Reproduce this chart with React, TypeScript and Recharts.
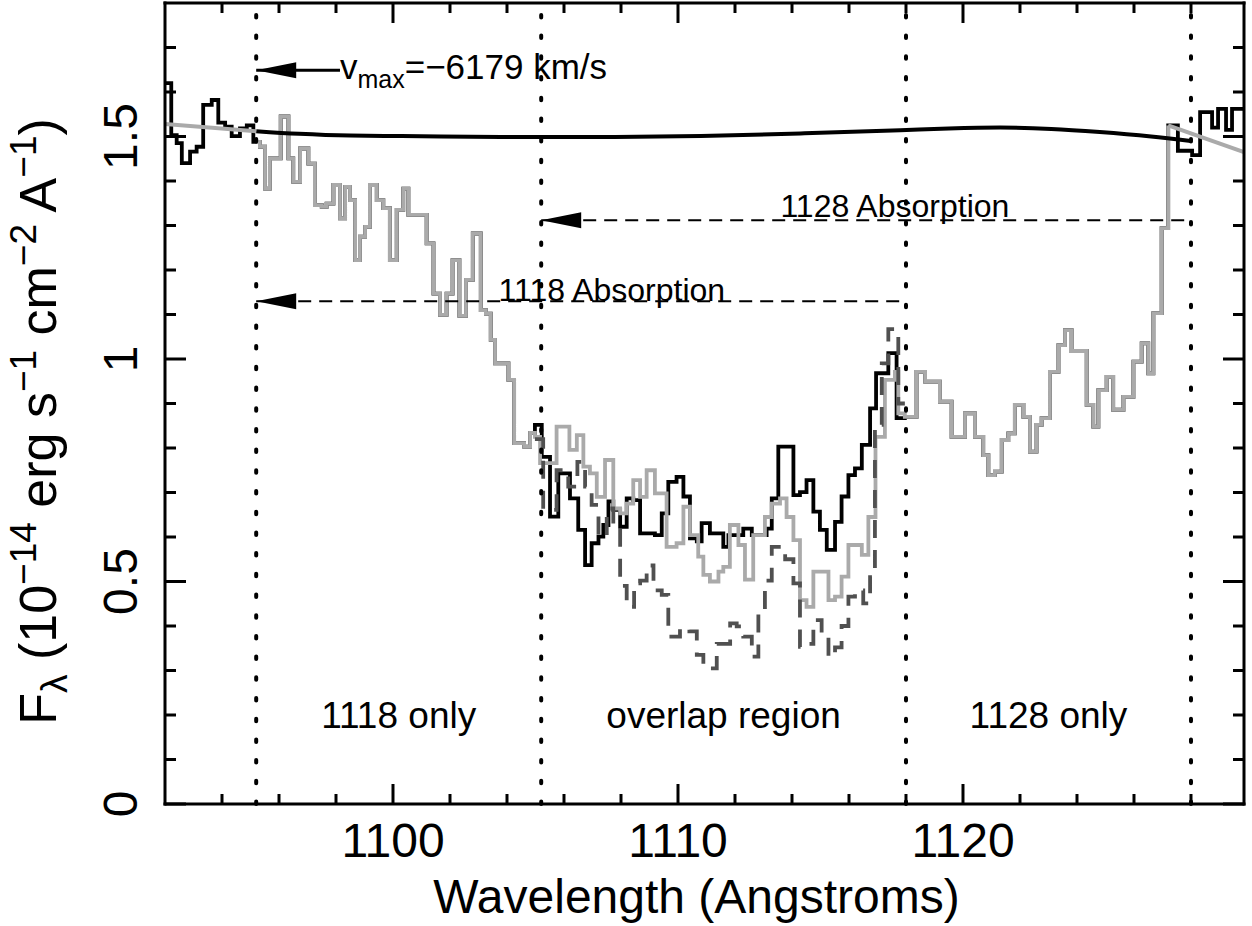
import React from 'react';
import { LineChart, Line, XAxis, YAxis, ReferenceLine, ReferenceDot } from 'recharts';

const FONT = '"Liberation Sans", Arial, Helvetica, sans-serif';

// ---------- axes ----------
const X_MIN = 1092;
const X_MAX = 1129.86;
const Y_MIN = 0;
const Y_MAX = 1.8;
const X_TICKS = [1094, 1096, 1098, 1100, 1102, 1104, 1106, 1108, 1110, 1112, 1114, 1116, 1118, 1120, 1122, 1124, 1126, 1128];
const X_MAJOR = [1100, 1110, 1120];
const Y_TICKS = [0, 0.1, 0.2, 0.3, 0.4, 0.5, 0.6, 0.7, 0.8, 0.9, 1, 1.1, 1.2, 1.3, 1.4, 1.5, 1.6, 1.7];
const Y_MAJOR = [0, 0.5, 1, 1.5];

// ---------- observed spectrum (black), pieces ----------
const leftObsWave = [1092.0, 1092.22, 1092.41, 1092.59, 1092.88, 1093.11, 1093.34, 1093.64, 1093.87, 1094.11, 1094.34, 1094.63, 1094.87, 1095.1];
const leftObsFlux = [1.62, 1.503, 1.485, 1.44, 1.466, 1.477, 1.571, 1.582, 1.531, 1.522, 1.501, 1.518, 1.525, 1.488];

// shared by observed and model (blue side of the trough)
const commonWave = [1095.22, 1095.33, 1095.51, 1095.68, 1096.06, 1096.33, 1096.5, 1096.74, 1097.03, 1097.26, 1097.5, 1097.67, 1097.91, 1098.14, 1098.32, 1098.49, 1098.67, 1098.84, 1099.02, 1099.19, 1099.43, 1099.66, 1099.89, 1100.13, 1100.36, 1100.54, 1101.18, 1101.42, 1101.65, 1101.88, 1102.09, 1102.33, 1102.56, 1102.8, 1103.08, 1103.26, 1103.43, 1103.58, 1104.05, 1104.25, 1104.6, 1104.81];
const commonFlux = [1.488, 1.477, 1.383, 1.451, 1.545, 1.451, 1.398, 1.473, 1.439, 1.346, 1.342, 1.349, 1.391, 1.316, 1.387, 1.357, 1.222, 1.275, 1.297, 1.391, 1.357, 1.339, 1.222, 1.335, 1.383, 1.324, 1.26, 1.147, 1.099, 1.147, 1.222, 1.097, 1.178, 1.282, 1.11, 1.102, 1.043, 0.99, 0.953, 0.811, 0.803, 0.834];

// observed in the overlap region
const blackOverWave = [1104.98, 1105.22, 1105.51, 1105.8, 1106.21, 1106.5, 1106.74, 1106.97, 1107.21, 1107.38, 1107.56, 1107.73, 1107.97, 1108.2, 1108.43, 1108.67, 1109.19, 1109.43, 1109.66, 1109.95, 1110.19, 1110.42, 1110.66, 1110.83, 1111.12, 1111.59, 1111.77, 1112.29, 1112.59, 1113.11, 1113.29, 1113.52, 1114.05, 1114.28, 1114.51, 1114.75, 1114.98, 1115.22, 1115.51, 1115.74, 1115.98, 1116.21, 1116.45, 1116.74, 1116.95, 1117.38, 1117.67];
const blackOverFlux = [0.852, 0.78, 0.646, 0.743, 0.687, 0.616, 0.537, 0.586, 0.601, 0.627, 0.68, 0.661, 0.623, 0.687, 0.683, 0.608, 0.604, 0.653, 0.724, 0.735, 0.691, 0.597, 0.59, 0.631, 0.608, 0.578, 0.604, 0.619, 0.604, 0.619, 0.687, 0.803, 0.694, 0.701, 0.728, 0.657, 0.616, 0.571, 0.634, 0.691, 0.739, 0.754, 0.807, 0.889, 0.968, 1.013, 0.867];

// model (light gray) in the overlap region
const grayOverWave = [1104.98, 1105.16, 1105.74, 1106.19, 1106.45, 1106.68, 1106.91, 1107.15, 1107.44, 1107.73, 1107.97, 1108.2, 1108.43, 1108.67, 1108.9, 1109.19, 1109.6, 1109.95, 1110.19, 1110.42, 1110.71, 1110.89, 1111.12, 1111.42, 1111.59, 1111.82, 1112.12, 1112.35, 1112.64, 1113.05, 1113.29, 1113.58, 1113.81, 1114.05, 1114.28, 1114.51, 1114.75, 1115.28, 1115.51, 1115.74, 1115.98, 1116.45, 1116.68, 1116.93, 1117.26, 1117.61, 1117.73];
const grayOverFlux = [0.825, 0.766, 0.848, 0.796, 0.829, 0.758, 0.743, 0.69, 0.773, 0.664, 0.653, 0.675, 0.728, 0.69, 0.75, 0.698, 0.578, 0.586, 0.668, 0.604, 0.556, 0.515, 0.5, 0.522, 0.533, 0.627, 0.582, 0.504, 0.604, 0.645, 0.675, 0.687, 0.645, 0.593, 0.458, 0.443, 0.522, 0.458, 0.466, 0.511, 0.582, 0.56, 0.645, 0.825, 0.953, 0.971, 0.878];

// shared by observed and model (red side, 1128 only)
const rightWave = [1117.96, 1118.37, 1118.67, 1119.19, 1119.6, 1120.07, 1120.42, 1120.71, 1120.89, 1121.12, 1121.36, 1121.59, 1121.82, 1122.12, 1122.35, 1122.58, 1122.76, 1123.05, 1123.35, 1123.58, 1123.81, 1124.34, 1124.57, 1124.75, 1125.04, 1125.27, 1125.63, 1125.98, 1126.27, 1126.5, 1126.68, 1126.97, 1127.2];
const rightFlux = [0.87, 0.971, 0.949, 0.904, 0.825, 0.878, 0.825, 0.784, 0.739, 0.747, 0.818, 0.833, 0.897, 0.87, 0.792, 0.852, 0.867, 0.971, 1.031, 1.065, 1.018, 0.897, 0.848, 0.93, 0.96, 0.886, 0.915, 0.994, 1.035, 0.968, 1.103, 1.294, 1.525];

const rightObsWave = [1127.54, 1128.04, 1128.32, 1128.74, 1128.95, 1129.23, 1129.44, 1129.86];
const rightObsFlux = [1.468, 1.458, 1.555, 1.52, 1.562, 1.515, 1.562, 1.562];

// dark gray dashed (overlap region)
const darkWave = [1104.98, 1105.27, 1105.74, 1106.15, 1106.47, 1106.74, 1106.97, 1107.21, 1107.5, 1107.73, 1107.97, 1108.2, 1108.46, 1108.67, 1108.9, 1109.14, 1109.43, 1109.66, 1110.07, 1110.4, 1110.66, 1110.89, 1111.36, 1111.83, 1112.06, 1112.29, 1112.59, 1112.82, 1113.05, 1113.29, 1113.76, 1114.05, 1114.28, 1114.57, 1114.75, 1115.04, 1115.28, 1115.51, 1115.74, 1115.98, 1116.21, 1116.5, 1116.74, 1116.91, 1117.15, 1117.38, 1117.73, 1117.96];
const darkFlux = [0.82, 0.661, 0.75, 0.713, 0.769, 0.713, 0.672, 0.601, 0.664, 0.62, 0.49, 0.443, 0.496, 0.502, 0.536, 0.48, 0.47, 0.376, 0.395, 0.388, 0.335, 0.305, 0.36, 0.406, 0.399, 0.376, 0.331, 0.436, 0.502, 0.578, 0.55, 0.496, 0.353, 0.36, 0.413, 0.38, 0.331, 0.352, 0.4, 0.466, 0.48, 0.451, 0.51, 0.852, 0.99, 1.067, 0.9, 0.9];

// continua
const contWave = [1095.2, 1096.7, 1098.5, 1100.3, 1103.8, 1107.3, 1110.8, 1114.3, 1117.8, 1119.5, 1121.3, 1123.1, 1124.8, 1126.6, 1128.0];
const contFlux = [1.512, 1.506, 1.502, 1.501, 1.499, 1.499, 1.501, 1.507, 1.514, 1.518, 1.52, 1.517, 1.51, 1.5, 1.49];
const grayContLeftWave = [1092.0, 1095.2];
const grayContLeftFlux = [1.528, 1.512];
const grayContRightWave = [1127.2, 1129.86];
const grayContRightFlux = [1.525, 1.465];

// annotation positions (data units)
const REGION_EDGES = [1095.2, 1105.2, 1118, 1128];
const VMAX_ARROW = { from: 1095.2, to: 1098.14, y: 1.649 };
const ABS1128 = { from: 1105.2, to: 1128, y: 1.312, textX: 1117.61 };
const ABS1118 = { from: 1095.2, to: 1118, y: 1.13, textX: 1107.68 };
const REGION_LABELS = [
  { x: 1100.2, y: 0.2, text: '1118 only' },
  { x: 1111.6, y: 0.2, text: 'overlap region' },
  { x: 1123.0, y: 0.2, text: '1128 only' },
];

const zip = (w: number[], f: number[]) => w.map((x, i) => ({ w: x, f: f[i] }));

const blackData = [
  ...zip(leftObsWave, leftObsFlux),
  ...zip(commonWave, commonFlux),
  ...zip(blackOverWave, blackOverFlux),
  ...zip(rightWave, rightFlux),
  ...zip(rightObsWave, rightObsFlux),
];
const grayData = [
  ...zip(commonWave, commonFlux),
  ...zip(grayOverWave, grayOverFlux),
  ...zip(rightWave, rightFlux),
];
const darkData = zip(darkWave, darkFlux);
const contData = zip(contWave, contFlux);
const grayLeftData = zip(grayContLeftWave, grayContLeftFlux);
const grayRightData = zip(grayContRightWave, grayContRightFlux);

const AXIS = { stroke: '#000', strokeWidth: 3, strokeLinecap: 'square' as const };
const near = (arr: number[], v: number) => arr.some((a) => Math.abs(a - v) < 1e-6);

const BottomTick = (p: any) => {
  const { x, y, payload } = p;
  const major = near(X_MAJOR, payload.value);
  return (
    <g>
      <line x1={x} x2={x} y1={y} y2={y - (major ? 20 : 10)} stroke="#000" strokeWidth={3} />
      {major && (
        <text x={x} y={y + 53} textAnchor="middle" fontSize={48} fontFamily={FONT} fill="#000">
          {String(payload.value)}
        </text>
      )}
    </g>
  );
};
const TopTick = (p: any) => {
  const { x, y, payload } = p;
  const major = near(X_MAJOR, payload.value);
  return <line x1={x} x2={x} y1={y} y2={y + (major ? 20 : 10)} stroke="#000" strokeWidth={3} />;
};
const LeftTick = (p: any) => {
  const { x, y, payload } = p;
  const major = near(Y_MAJOR, payload.value);
  const lx = x - 28;
  return (
    <g>
      <line x1={x} x2={x + (major ? 21 : 11)} y1={y} y2={y} stroke="#000" strokeWidth={3} />
      {major && (
        <text x={lx} y={y} transform={`rotate(-90, ${lx}, ${y})`} textAnchor="middle" fontSize={48} fontFamily={FONT} fill="#000">
          {String(payload.value)}
        </text>
      )}
    </g>
  );
};
const RightTick = (p: any) => {
  const { x, y, payload } = p;
  const major = near(Y_MAJOR, payload.value);
  return <line x1={x} x2={x - (major ? 21 : 11)} y1={y} y2={y} stroke="#000" strokeWidth={3} />;
};

const XTitle = (p: any) => {
  const vb = p.viewBox || { x: 165, y: 804, width: 1079, height: 122 };
  return (
    <text x={vb.x + vb.width / 2 - 8} y={vb.y + 109} textAnchor="middle" fontSize={48} fontFamily={FONT} fill="#000">
      Wavelength (Angstroms)
    </text>
  );
};
const YTitle = (p: any) => {
  const vb = p.viewBox || { x: 0, y: 3, width: 165, height: 801 };
  const cx = vb.x + 56;
  const cy = vb.y + vb.height / 2 + 18;
  const big = 52;
  const sm = 37;
  return (
    <text x={cx} y={cy} transform={`rotate(-90, ${cx}, ${cy})`} textAnchor="middle" fontSize={big} fontFamily={FONT} fill="#000">
      <tspan>F</tspan>
      <tspan fontSize={sm} dy={11}>λ</tspan>
      <tspan dy={-11}> (10</tspan>
      <tspan fontSize={sm} dy={-20}>−14</tspan>
      <tspan dy={20}> erg s</tspan>
      <tspan fontSize={sm} dy={-20}>−1</tspan>
      <tspan dy={20}> cm</tspan>
      <tspan fontSize={sm} dy={-20}>−2</tspan>
      <tspan dy={20}> A</tspan>
      <tspan fontSize={sm} dy={-20}>−1</tspan>
      <tspan dy={20}>)</tspan>
    </text>
  );
};

const arrowHead = (p: any) => (
  <polygon points={`${p.cx},${p.cy} ${p.cx + 40},${p.cy - 8} ${p.cx + 40},${p.cy + 8}`} fill="#000" />
);
const vmaxText = (p: any) => (
  <text x={p.cx} y={p.cy + 9} fontSize={35} fontFamily={FONT} fill="#000">
    <tspan>v</tspan>
    <tspan fontSize={25} dy={9}>max</tspan>
    <tspan dy={-9}>=−6179 km/s</tspan>
  </text>
);
const absText = (label: string, dy: number) => (p: any) => (
  <text x={p.cx} y={p.cy + dy} textAnchor="middle" fontSize={32} fontFamily={FONT} fill="#000">
    {label}
  </text>
);
const regionText = (label: string) => (p: any) => (
  <text x={p.cx} y={p.cy + 13} textAnchor="middle" fontSize={37} fontFamily={FONT} fill="#000">
    {label}
  </text>
);

export default function App() {
  return (
    <div style={{ position: 'absolute', left: 0, top: 0, width: 1252, height: 926, background: '#fff' }}>
      <LineChart width={1252} height={926} margin={{ top: 0, right: 0, bottom: 0, left: 0 }}>
        <XAxis
          dataKey="w"
          type="number"
          domain={[X_MIN, X_MAX]}
          allowDataOverflow
          ticks={X_TICKS}
          interval={0}
          tickSize={0}
          tickMargin={0}
          tickLine={false}
          tick={BottomTick}
          axisLine={AXIS}
          height={122}
          label={XTitle}
        />
        <XAxis
          xAxisId="top"
          orientation="top"
          dataKey="w"
          type="number"
          domain={[X_MIN, X_MAX]}
          allowDataOverflow
          ticks={X_TICKS}
          interval={0}
          tickSize={0}
          tickMargin={0}
          tickLine={false}
          tick={TopTick}
          axisLine={AXIS}
          height={3}
        />
        <YAxis
          type="number"
          domain={[Y_MIN, Y_MAX]}
          allowDataOverflow
          ticks={Y_TICKS}
          interval={0}
          tickSize={0}
          tickMargin={0}
          tickLine={false}
          tick={LeftTick}
          axisLine={AXIS}
          width={165}
          label={YTitle}
        />
        <YAxis
          yAxisId="right"
          orientation="right"
          type="number"
          domain={[Y_MIN, Y_MAX]}
          allowDataOverflow
          ticks={Y_TICKS}
          interval={0}
          tickSize={0}
          tickMargin={0}
          tickLine={false}
          tick={RightTick}
          axisLine={AXIS}
          width={8}
        />

        <Line data={blackData} dataKey="f" type="stepAfter" stroke="#000" strokeWidth={3.8} dot={false} activeDot={false} isAnimationActive={false} />
        <Line data={grayData} dataKey="f" type="stepAfter" stroke="#aaaaaa" strokeWidth={3.8} dot={false} activeDot={false} isAnimationActive={false} />
        <Line data={darkData} dataKey="f" type="stepAfter" stroke="#505050" strokeWidth={3.8} strokeDasharray="18 12" dot={false} activeDot={false} isAnimationActive={false} />
        <Line data={contData} dataKey="f" type="monotone" stroke="#000" strokeWidth={4} dot={false} activeDot={false} isAnimationActive={false} />
        <Line data={grayLeftData} dataKey="f" type="linear" stroke="#aaaaaa" strokeWidth={4} dot={false} activeDot={false} isAnimationActive={false} />
        <Line data={grayRightData} dataKey="f" type="linear" stroke="#aaaaaa" strokeWidth={4} dot={false} activeDot={false} isAnimationActive={false} />

        {REGION_EDGES.map((x) => (
          <ReferenceLine key={x} x={x} stroke="#000" strokeWidth={4} strokeDasharray="2.5 18.2" strokeLinecap="round" />
        ))}

        <ReferenceLine segment={[{ x: VMAX_ARROW.from, y: VMAX_ARROW.y }, { x: VMAX_ARROW.to, y: VMAX_ARROW.y }]} stroke="#000" strokeWidth={3} />
        <ReferenceDot x={VMAX_ARROW.from} y={VMAX_ARROW.y} shape={arrowHead} />
        <ReferenceDot x={VMAX_ARROW.to} y={VMAX_ARROW.y} shape={vmaxText} />

        <ReferenceLine segment={[{ x: ABS1128.from, y: ABS1128.y }, { x: ABS1128.to, y: ABS1128.y }]} stroke="#000" strokeWidth={2} strokeDasharray="13 8" />
        <ReferenceDot x={ABS1128.from} y={ABS1128.y} shape={arrowHead} />
        <ReferenceDot x={ABS1128.textX} y={ABS1128.y} shape={absText('1128 Absorption', -3)} />

        <ReferenceLine segment={[{ x: ABS1118.from, y: ABS1118.y }, { x: ABS1118.to, y: ABS1118.y }]} stroke="#000" strokeWidth={2} strokeDasharray="13 8" />
        <ReferenceDot x={ABS1118.from} y={ABS1118.y} shape={arrowHead} />
        <ReferenceDot x={ABS1118.textX} y={ABS1118.y} shape={absText('1118 Absorption', 0)} />

        {REGION_LABELS.map((r) => (
          <ReferenceDot key={r.text} x={r.x} y={r.y} shape={regionText(r.text)} />
        ))}
      </LineChart>
    </div>
  );
}
